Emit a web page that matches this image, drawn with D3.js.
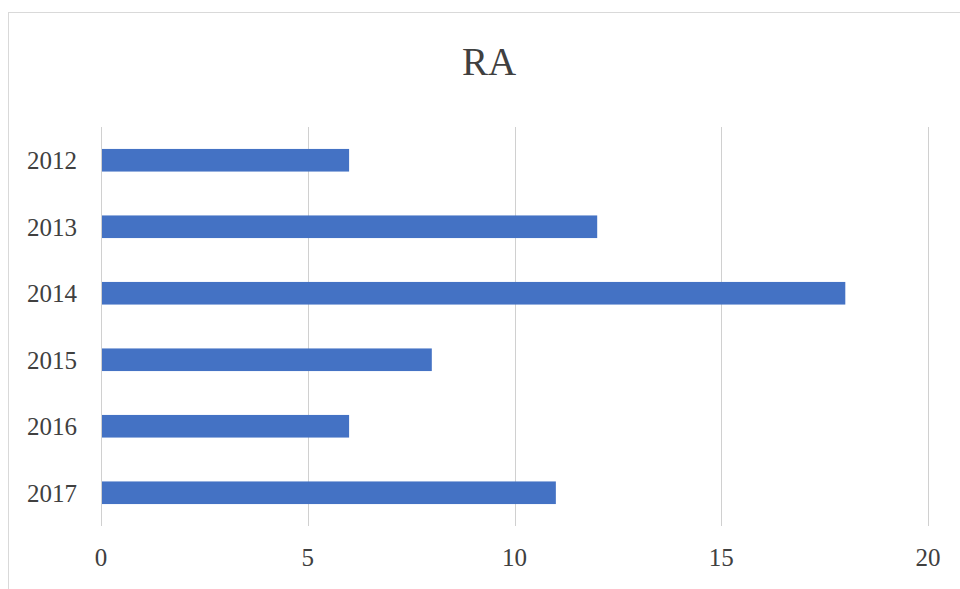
<!DOCTYPE html>
<html>
<head>
<meta charset="utf-8">
<script src="https://cdn.jsdelivr.net/npm/d3@7"></script>
<style>
  body { margin: 0; background: #fff; }
  svg text { font-family: "Liberation Serif", "DejaVu Serif", serif; fill: #404040; }
</style>
</head>
<body>
<div id="chart"></div>
<script>
// data
const years = ["2012", "2013", "2014", "2015", "2016", "2017"];
const counts = [6, 12, 18, 8, 6, 11];
const xTicks = [0, 5, 10, 15, 20];
const chartTitle = "RA";

const width = 960, height = 589;
const margin = { top: 127, right: 32, bottom: 63, left: 101 };

const svg = d3.select("#chart")
  .append("svg")
  .attr("width", width)
  .attr("height", height);

// chart frame
svg.append("rect")
  .attr("x", 8.5)
  .attr("y", 12.5)
  .attr("width", width)
  .attr("height", height)
  .attr("fill", "none")
  .attr("stroke", "#d9d9d9")
  .attr("stroke-width", 1);

const x = d3.scaleLinear()
  .domain([0, 20])
  .range([margin.left, width - margin.right]);

const y = d3.scaleBand()
  .domain(years)
  .range([margin.top, height - margin.bottom])
  .paddingInner(0.66)
  .paddingOuter(0.33);

// gridlines
svg.append("g")
  .selectAll("line")
  .data(xTicks)
  .enter()
  .append("line")
  .attr("x1", d => Math.round(x(d)) + 0.5)
  .attr("x2", d => Math.round(x(d)) + 0.5)
  .attr("y1", margin.top)
  .attr("y2", height - margin.bottom)
  .attr("stroke", "#d0d0d0")
  .attr("stroke-width", 1);

// bars
const data = years.map((yr, i) => ({ year: yr, value: counts[i] }));
svg.selectAll("rect.bar")
  .data(data)
  .enter()
  .append("rect")
  .attr("class", "bar")
  .attr("x", x(0) + 1)
  .attr("y", d => y(d.year))
  .attr("width", d => x(d.value) - x(0) - 1)
  .attr("height", y.bandwidth())
  .attr("fill", "#4472C4");

// x tick labels
svg.append("g")
  .selectAll("text")
  .data(xTicks)
  .enter()
  .append("text")
  .attr("x", d => x(d))
  .attr("y", 566)
  .attr("text-anchor", "middle")
  .style("font-size", "25px")
  .text(d => d);

// y labels
svg.append("g")
  .selectAll("text")
  .data(years)
  .enter()
  .append("text")
  .attr("x", 77)
  .attr("y", d => y(d) + y.bandwidth() / 2)
  .attr("dy", "0.35em")
  .attr("text-anchor", "end")
  .style("font-size", "25px")
  .text(d => d);

// title
svg.append("text")
  .attr("x", 489)
  .attr("y", 75)
  .attr("text-anchor", "middle")
  .style("font-size", "39px")
  .text(chartTitle);
</script>
</body>
</html>
